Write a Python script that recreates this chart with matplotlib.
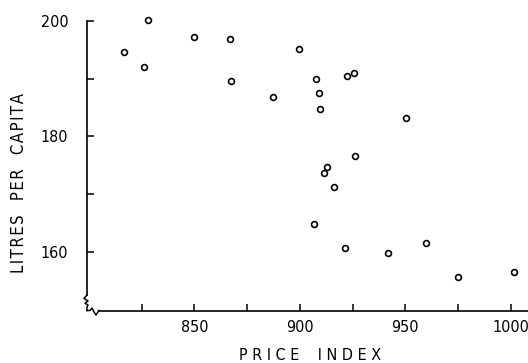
import matplotlib
matplotlib.use("Agg")
import matplotlib.pyplot as plt

# --- Data ---
price_index = [816.5, 828.2, 826.3, 850.0, 867.1, 867.3, 899.6, 907.8,
               922.4, 925.7, 887.3, 909.1, 909.7, 950.3, 926.3, 912.7,
               911.6, 916.1, 906.6, 921.4, 941.7, 960.0, 975.0, 1001.7]
litres_per_capita = [194.6, 200.2, 192.0, 197.3, 196.8, 189.6, 195.2, 190.0,
                     190.4, 191.0, 186.9, 187.6, 184.7, 183.2, 176.6, 174.7,
                     173.6, 171.3, 164.8, 160.7, 159.7, 161.5, 155.6, 156.5]
x_major = [850, 900, 950, 1000]
x_minor = [825, 875, 925, 975]
y_major = [160, 180, 200]
y_minor = [170, 190]

W, H = 528, 363
fig = plt.figure(figsize=(W / 100, H / 100), dpi=100)
ax = fig.add_axes([87 / W, (H - 310.5) / H, 441 / W, 289.5 / H])

ax.plot(price_index, litres_per_capita, 'o', mfc='white', mec='black',
        ms=4.2, mew=1.2, clip_on=False)

ax.set_xlim(799.1, 1008.2)
ax.set_ylim(149.8, 200)

ax.set_xticks(x_major)
ax.set_xticks(x_minor, minor=True)
ax.set_yticks(y_major)
ax.set_yticks(y_minor, minor=True)
ax.set_xticklabels([str(v) for v in x_major], fontsize=11.5, fontstretch='condensed')
ax.set_yticklabels([str(v) for v in y_major], fontsize=11.5, fontstretch='condensed')
ax.tick_params(which='both', direction='in', length=5, width=1.1, color='black')
ax.tick_params(axis='x', pad=6.5)
ax.tick_params(axis='y', pad=13.5)

for s in ['top', 'right']:
    ax.spines[s].set_visible(False)
ax.spines['left'].set_bounds(152.5, 200)
ax.spines['bottom'].set_bounds(804.7, 1008.2)
for s in ['left', 'bottom']:
    ax.spines[s].set_linewidth(1.2)

# axis break squiggles (axes-fraction coords)
bx = [0.0, -0.0068, 0.0023, -0.0045, 0.0023, 0.0, 0.0]
by = [0.0535, 0.042, 0.033, 0.025, 0.019, 0.012, 0.0]
ax.plot(bx, by, color='black', lw=1.1, transform=ax.transAxes, clip_on=False)
sx = [0.0, 0.0068, 0.0113, 0.0159, 0.0204, 0.027]
sy = [0.0, 0.0, 0.0086, -0.005, -0.0155, 0.0]
ax.plot(sx, sy, color='black', lw=1.1, transform=ax.transAxes, clip_on=False)

hs = '\u200a'
ylab = '   '.join(hs.join(w) for w in ['LITRES', 'PER', 'CAPITA'])
fig.text(19 / W, 1 - 183 / H, ylab, rotation=90,
         ha='center', va='center', fontsize=12, fontstretch='condensed')
fig.text(310 / W, 1 - 355 / H, 'P R I C E    I N D E X',
         ha='center', va='center', fontsize=11.5, fontstretch='condensed')

fig.savefig('out.png', dpi=100)
